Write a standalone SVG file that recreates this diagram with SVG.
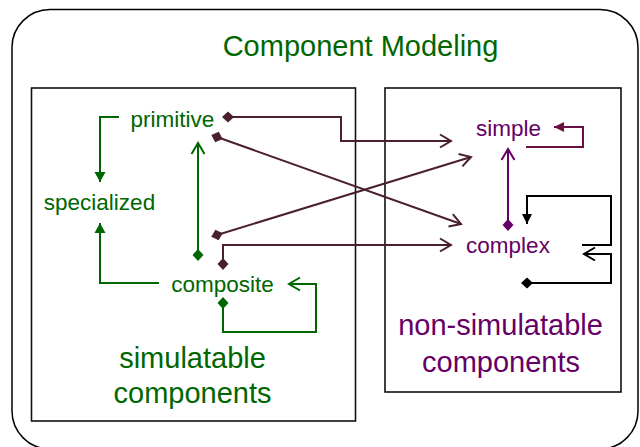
<svg xmlns="http://www.w3.org/2000/svg" width="640" height="447" viewBox="0 0 640 447">
  <style>
    .lbl { font-family: "Liberation Sans", Arial, sans-serif; text-anchor: middle; }
    .node { font-size: 22.5px; }
    .big { font-size: 29px; }
    .green { fill: #006600; }
    .purple { fill: #660066; }
    .frame { fill: none; stroke: #111; stroke-width: 1.6; }
    .c { fill: none; stroke-width: 2; stroke-linejoin: miter; }
    .maroon { stroke: #4a1f2e; }
    .cg { stroke: #006600; }
    .cp { stroke: #660066; }
    .cs { stroke: #6a1040; }
    .ck { stroke: #000; }
  </style>
  <defs>
    <!-- open chevron arrowheads -->
    <marker id="chev-maroon" markerUnits="userSpaceOnUse" viewBox="-13 -8 15 16" markerWidth="15" markerHeight="16" refX="0" refY="0" orient="auto">
      <path d="M-11,-6.5 L0,0 L-11,6.5" fill="none" stroke="#4a1f2e" stroke-width="2"/>
    </marker>
    <marker id="chev-green" markerUnits="userSpaceOnUse" viewBox="-13 -8 15 16" markerWidth="15" markerHeight="16" refX="0" refY="0" orient="auto">
      <path d="M-11,-6.5 L0,0 L-11,6.5" fill="none" stroke="#006600" stroke-width="2"/>
    </marker>
    <marker id="chev-purple" markerUnits="userSpaceOnUse" viewBox="-13 -8 15 16" markerWidth="15" markerHeight="16" refX="0" refY="0" orient="auto">
      <path d="M-11,-6.5 L0,0 L-11,6.5" fill="none" stroke="#660066" stroke-width="2"/>
    </marker>
    <marker id="chev-black" markerUnits="userSpaceOnUse" viewBox="-13 -8 15 16" markerWidth="15" markerHeight="16" refX="0" refY="0" orient="auto">
      <path d="M-11,-6.5 L0,0 L-11,6.5" fill="none" stroke="#000" stroke-width="2"/>
    </marker>
    <!-- filled triangle arrowheads -->
    <marker id="tri-green" markerUnits="userSpaceOnUse" viewBox="-11 -7 12 14" markerWidth="12" markerHeight="14" refX="0" refY="0" orient="auto">
      <path d="M-10,-5.5 L0,0 L-10,5.5 Z" fill="#006600"/>
    </marker>
    <marker id="tri-black" markerUnits="userSpaceOnUse" viewBox="-11 -7 12 14" markerWidth="12" markerHeight="14" refX="0" refY="0" orient="auto">
      <path d="M-10,-5 L0,0 L-10,5 Z" fill="#000"/>
    </marker>
    <marker id="tri-simple" markerUnits="userSpaceOnUse" viewBox="-11 -7 12 14" markerWidth="12" markerHeight="14" refX="0" refY="0" orient="auto">
      <path d="M-10,-5 L0,0 L-10,5 Z" fill="#6a1040"/>
    </marker>
    <!-- diamond tails -->
    <marker id="dia-maroon" markerUnits="userSpaceOnUse" viewBox="-7 -7 14 14" markerWidth="14" markerHeight="14" refX="0" refY="0" orient="auto">
      <path d="M-6,0 L0,-5.5 L6,0 L0,5.5 Z" fill="#4a1f2e"/>
    </marker>
    <marker id="dia-green" markerUnits="userSpaceOnUse" viewBox="-7 -7 14 14" markerWidth="14" markerHeight="14" refX="0" refY="0" orient="auto">
      <path d="M-6,0 L0,-5.5 L6,0 L0,5.5 Z" fill="#006600"/>
    </marker>
    <marker id="dia-purple" markerUnits="userSpaceOnUse" viewBox="-7 -7 14 14" markerWidth="14" markerHeight="14" refX="0" refY="0" orient="auto">
      <path d="M-6,0 L0,-5.5 L6,0 L0,5.5 Z" fill="#660066"/>
    </marker>
    <marker id="dia-black" markerUnits="userSpaceOnUse" viewBox="-7 -7 14 14" markerWidth="14" markerHeight="14" refX="0" refY="0" orient="auto">
      <path d="M-6,0 L0,-5.5 L6,0 L0,5.5 Z" fill="#000"/>
    </marker>
  </defs>

  <rect x="0" y="0" width="640" height="447" fill="#fff"/>

  <!-- outer frame and title -->
  <g id="frame">
    <rect x="12" y="9.5" width="626" height="439.5" rx="38" ry="38" fill="none" stroke="#000" stroke-width="1.5"/>
    <text class="lbl big green" x="360.5" y="56">Component Modeling</text>
  </g>

  <!-- component groups -->
  <g id="box-simulatable">
    <rect class="frame" x="31.5" y="88" width="324" height="333"/>
    <text class="lbl big green" x="192.5" y="368">simulatable</text>
    <text class="lbl big green" x="192.5" y="403">components</text>
  </g>
  <g id="box-nonsimulatable">
    <rect class="frame" x="385" y="88" width="236" height="304"/>
    <text class="lbl big purple" x="500.5" y="335">non-simulatable</text>
    <text class="lbl big purple" x="501" y="372">components</text>
  </g>

  <!-- nodes -->
  <g id="node-primitive"><text class="lbl node green" x="172.5" y="127">primitive</text></g>
  <g id="node-specialized"><text class="lbl node green" x="99.5" y="210">specialized</text></g>
  <g id="node-composite"><text class="lbl node green" x="222.5" y="292">composite</text></g>
  <g id="node-simple"><text class="lbl node purple" x="508.5" y="136">simple</text></g>
  <g id="node-complex"><text class="lbl node purple" x="508" y="253">complex</text></g>

  <!-- connectors -->
  <g id="connectors">
    <path class="c maroon" d="M228,117 H341 V141 H451" marker-start="url(#dia-maroon)" marker-end="url(#chev-maroon)"/>
    <path class="c maroon" d="M217,137 L461,224" marker-start="url(#dia-maroon)" marker-end="url(#chev-maroon)"/>
    <path class="c maroon" d="M217,235 L471,157" marker-start="url(#dia-maroon)" marker-end="url(#chev-maroon)"/>
    <path class="c maroon" d="M223,264 V245 H451" marker-start="url(#dia-maroon)" marker-end="url(#chev-maroon)"/>

    <path class="c cg" d="M119,117 H100 V182" marker-end="url(#tri-green)"/>
    <path class="c cg" d="M159,283 H100 V223" marker-end="url(#tri-green)"/>
    <path class="c cg" d="M198,255 V143" marker-start="url(#dia-green)" marker-end="url(#chev-green)"/>
    <path class="c cg" d="M223,303 V332 H316 V284 H289" marker-start="url(#dia-green)" marker-end="url(#chev-green)"/>

    <path class="c cp" d="M508,225 V149" marker-start="url(#dia-purple)" marker-end="url(#chev-purple)"/>
    <path class="c cs" d="M526,147 H583 V127 H554" marker-end="url(#tri-simple)"/>

    <path class="c ck" d="M582,245 H611 V196 H527 V224" marker-end="url(#tri-black)"/>
    <path class="c ck" d="M527,283 H611 V254 H584" marker-start="url(#dia-black)" marker-end="url(#chev-black)"/>
  </g>
</svg>
